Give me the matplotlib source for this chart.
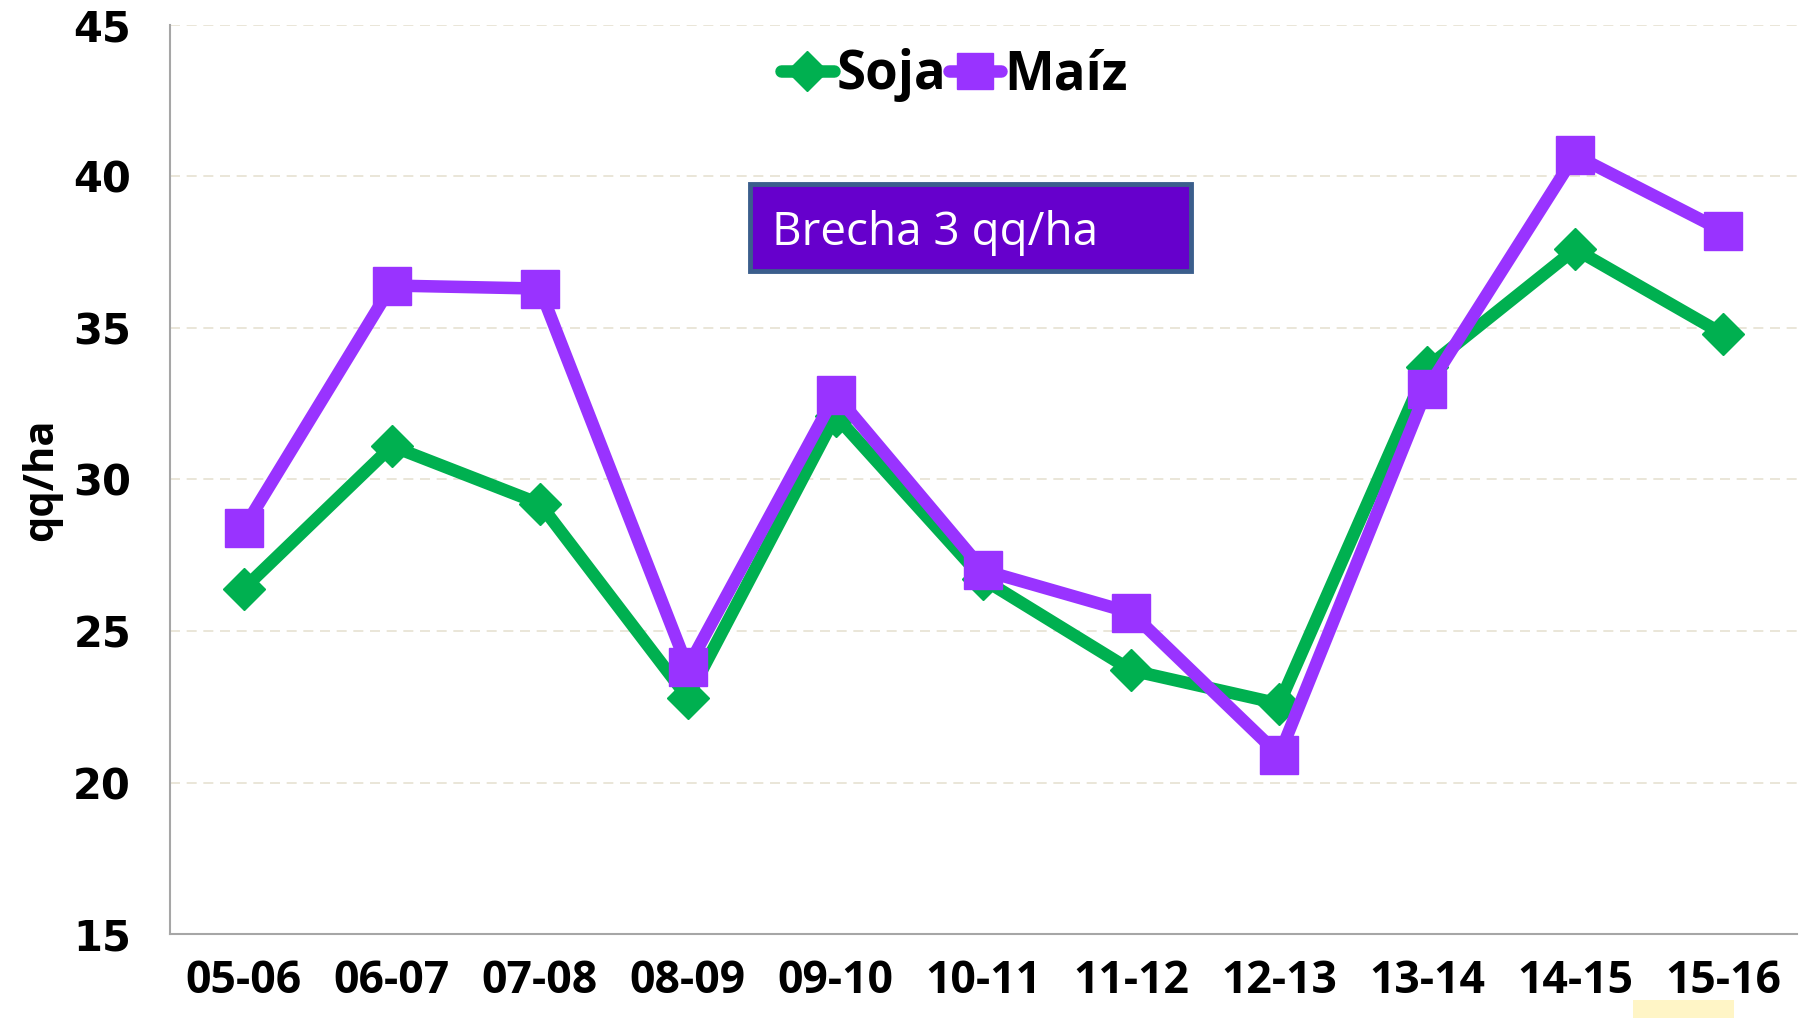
import matplotlib.pyplot as plt
from matplotlib.patches import Rectangle

campanas = ["05-06", "06-07", "07-08", "08-09", "09-10", "10-11",
            "11-12", "12-13", "13-14", "14-15", "15-16"]
soja = [26.4, 31.1, 29.2, 22.8, 32.1, 26.7, 23.7, 22.6, 33.7, 37.6, 34.8]
maiz = [28.4, 36.4, 36.3, 23.8, 32.8, 27.0, 25.6, 20.9, 33.0, 40.7, 38.2]
y_ticks = [15, 20, 25, 30, 35, 40, 45]

VERDE = "#00B050"
VIOLETA = "#9933FF"

fig = plt.figure(figsize=(18.06, 10.18), dpi=100)
ax = fig.add_axes([0.0941, 0.0825, 0.9009, 0.893])

x = range(len(campanas))
ax.plot(x, soja, color=VERDE, lw=9, marker="D", ms=21, label="Soja",
        solid_joinstyle="round", solid_capstyle="round")
ax.plot(x, maiz, color=VIOLETA, lw=9, marker="s", ms=28, label="Maíz",
        solid_joinstyle="round", solid_capstyle="round")

ax.set_xlim(-0.5, len(campanas) - 0.5)
ax.set_ylim(15, 45)
ax.set_yticks(y_ticks)
ax.set_xticks(list(x))
ax.set_xticklabels(campanas, fontfamily="Open Sans", fontweight="bold", fontsize=32)
ax.set_yticklabels([str(v) for v in y_ticks], fontfamily="DejaVu Sans",
                   fontweight="bold", fontsize=30)
ax.tick_params(length=0)
ax.tick_params(axis="x", pad=18)
ax.tick_params(axis="y", pad=28)

ax.grid(axis="y", color="#E6E2D2", ls=(0, (6, 4)), lw=1.2)
ax.set_axisbelow(True)
for s in ["top", "right"]:
    ax.spines[s].set_visible(False)
for s in ["left", "bottom"]:
    ax.spines[s].set_color("#A6A6A6")
    ax.spines[s].set_linewidth(1.5)

ax.set_ylabel("qq/ha", fontfamily="Open Sans", fontweight="bold", fontsize=30, labelpad=8)

leg = ax.legend(loc="upper center", bbox_to_anchor=(0.482, 1.015), ncol=2, frameon=False,
                prop={"family": "Open Sans", "weight": "bold", "size": 38},
                handlelength=1.0, handletextpad=0.05, columnspacing=0.05, borderpad=0.2,
                markerscale=0.95)

# recuadro de brecha
fig.patches.append(Rectangle((0.4153, 0.7338), 0.2442, 0.0855, transform=fig.transFigure,
                             facecolor="#6600CC", edgecolor="#3B5E8C", lw=3.5, zorder=5))
fig.text(0.4275, 0.7765, "Brecha 3 qq/ha", color="white", fontfamily="Open Sans",
         fontsize=33, va="center_baseline", ha="left", zorder=6)

# resaltado amarillo bajo 15-16
fig.patches.append(Rectangle((0.904, 0.0), 0.056, 0.018, transform=fig.transFigure,
                             facecolor="#FFF3B8", edgecolor="none", alpha=0.8, zorder=0))

fig.savefig("out.png", dpi=100)
